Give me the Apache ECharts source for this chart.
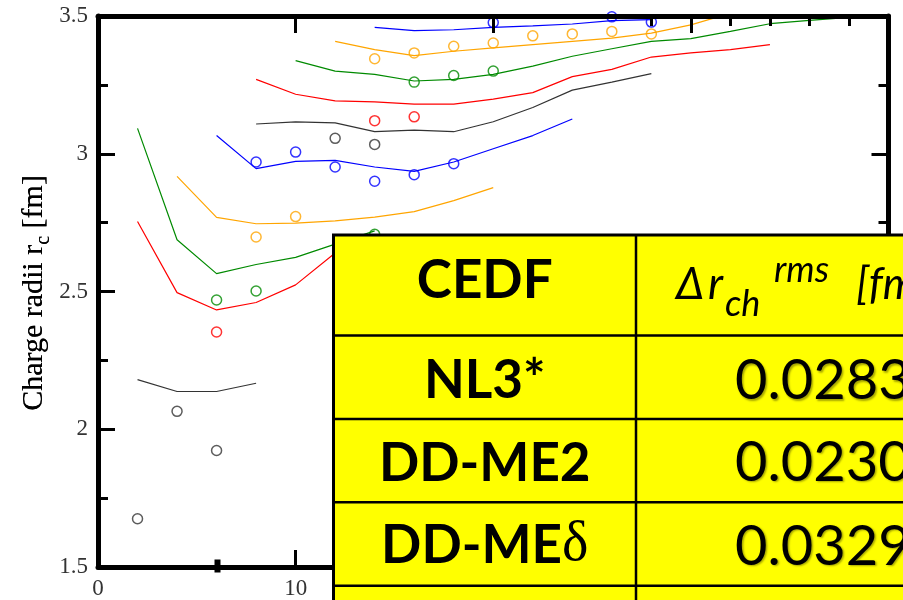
<!DOCTYPE html>
<html><head><meta charset="utf-8">
<script src="https://cdn.jsdelivr.net/npm/echarts@6/dist/echarts.min.js"></script>
<style>html,body{margin:0;padding:0;background:#fff}#c{width:903px;height:600px}</style>
</head><body><div id="c"></div><script>
// ---------- data (x = neutron-like index, y = charge radius in fm) ----------
const thBlack1  = [[2,2.180],[4,2.137],[6,2.137],[8,2.167]];
const exBlack1  = [[2,1.675],[4,2.065],[6,1.923]];
const thRed1    = [[2,2.754],[4,2.496],[6,2.433],[8,2.460],[10,2.524],[12,2.640],[14,2.700]];
const exRed1    = [[6,2.353]];
const thGreen1  = [[2,3.092],[4,2.688],[6,2.565],[8,2.598],[10,2.624],[12,2.672],[14,2.720]];
const exGreen1  = [[6,2.469],[8,2.502],[14,2.708]];
const thOrange1 = [[4,2.918],[6,2.769],[8,2.746],[10,2.748],[12,2.756],[14,2.770],[16,2.790],[18,2.830],[20,2.877]];
const exOrange1 = [[8,2.698],[10,2.772]];
const thBlue1   = [[6,3.066],[8,2.946],[10,2.972],[12,2.976],[14,2.952],[16,2.936],[18,2.970],[20,3.018],[22,3.066],[24,3.126]];
const exBlue1   = [[8,2.970],[10,3.006],[12,2.952],[14,2.900],[16,2.924],[18,2.964]];
const thBlack2  = [[8,3.108],[10,3.116],[12,3.112],[14,3.080],[16,3.086],[18,3.080],[20,3.116],[22,3.168],[24,3.231],[26,3.260],[28,3.291]];
const exBlack2  = [[12,3.056],[14,3.034]];
const thRed2    = [[8,3.270],[10,3.216],[12,3.192],[14,3.188],[16,3.180],[18,3.180],[20,3.198],[22,3.222],[24,3.280],[26,3.306],[28,3.351],[30,3.366],[32,3.378],[34,3.396]];
const exRed2    = [[14,3.120],[16,3.134]];
const thGreen2  = [[10,3.338],[12,3.300],[14,3.288],[16,3.264],[18,3.270],[20,3.288],[22,3.318],[24,3.354],[26,3.381],[28,3.408],[30,3.418],[32,3.444],[34,3.472],[36,3.484],[38,3.495]];
const exGreen2  = [[16,3.260],[18,3.284],[20,3.300]];
const thOrange2 = [[12,3.408],[14,3.378],[16,3.356],[18,3.372],[20,3.384],[22,3.396],[24,3.408],[26,3.420],[28,3.438],[30,3.468],[32,3.510]];
const exOrange2 = [[14,3.345],[16,3.366],[18,3.390],[20,3.402],[22,3.428],[24,3.435],[26,3.444],[28,3.435]];
const thBlue2   = [[14,3.459],[16,3.447],[18,3.450],[20,3.459],[22,3.464],[24,3.471],[26,3.483],[28,3.487]];
const exBlue2   = [[20,3.476],[26,3.497],[28,3.478]];

// table content
const tableHeader = 'CEDF';
const cedfNames  = ['NL3*', 'DD-ME2', 'DD-ME'];
const cedfDelta  = ['', '', 'δ'];
const rmsValues  = ['0.0283', '0.0230', '0.0329'];

// axis ranges and minor tick values
const xMin = 0, xMax = 40, xStep = 10;
const yMin = 1.5, yMax = 3.5, yStep = 0.5, yMinor = 0.25;
const xMinorTicks = [2,4,6,8,12,14,16,18,22,24,26,28,32,34,36,38];

// ---------- styling ----------
const GRID = {left:98, right:12, top:16, bottom:29};
const C = {black:'#333333', red:'#ff0000', green:'#008a00', orange:'#ffa500', blue:'#0000ff'};
const pairs = [
  [thBlack1, exBlack1, C.black], [thRed1, exRed1, C.red], [thGreen1, exGreen1, C.green],
  [thOrange1, exOrange1, C.orange], [thBlue1, exBlue1, C.blue],
  [thBlack2, exBlack2, C.black], [thRed2, exRed2, C.red], [thGreen2, exGreen2, C.green],
  [thOrange2, exOrange2, C.orange], [thBlue2, exBlue2, C.blue]
];
const series = [];
pairs.forEach(([th, ex, col]) => {
  series.push({type:'line', data: th, symbol:'none', showSymbol:false, clip:true,
    lineStyle:{color: col, width:1.2}, z:3, silent:true, animation:false});
  series.push({type:'scatter', data: ex, symbol:'circle', symbolSize:10,
    itemStyle:{color:'rgba(0,0,0,0)', borderColor: col, borderWidth:1.5}, z:4, silent:true, animation:false});
});

const serif = "'Liberation Serif', 'DejaVu Serif', serif";
const tickStyle = {color:'#000', width:3};
function ax(pos, min, max, step, labels, len, showLine){
  return {type:'value', position:pos, min:min, max:max, interval:step,
    axisLine:{show:showLine, onZero:false, lineStyle:{color:'#000', width:5}},
    axisTick:{show:true, inside:true, length:len, lineStyle:tickStyle},
    minorTick:{show:false},
    axisLabel:{show:labels, margin:10, fontFamily:serif, fontSize:23, color:'#333'},
    splitLine:{show:false}, z:5};
}

// ---------- text measuring helper ----------
const mctx = document.createElement('canvas').getContext('2d');
function tw(t, font){ mctx.font = font; return mctx.measureText(t).width; }

// y-axis title (rotated, with subscript)
const tFont = '30px ' + serif, sFont = '20px ' + serif;
const tA = 'Charge radii r', tB = 'c', tC = ' [fm]';
const wA = tw(tA, tFont), wB = tw(tB, sFont), wC = tw(tC, tFont);
const totalW = wA + wB + wC;
const x0 = -totalW/2;
const yTitle = {type:'group', x:44, y:293, rotation:Math.PI/2, z:50, silent:true, children:[
  {type:'text', x:x0, y:-10, style:{text:tA, font:tFont, fill:'#333', textAlign:'left', textVerticalAlign:'middle'}},
  {type:'text', x:x0+wA, y:0, style:{text:tB, font:sFont, fill:'#333', textAlign:'left', textVerticalAlign:'middle'}},
  {type:'text', x:x0+wA+wB, y:-10, style:{text:tC, font:tFont, fill:'#333', textAlign:'left', textVerticalAlign:'middle'}}
]};

// ---------- table ----------
const lato = "Lato, 'Open Sans', 'DejaVu Sans', sans-serif";
const tblLeft = 333.5, tblTop = 235, colX = 636;
const rowLines = [335.5, 419, 502.3, 585.7];
const nameY = [380.5, 463.5, 545.5];
const valY  = [381, 462.5, 546.5];
const tbl = [];
tbl.push({type:'rect', z:100, silent:true, shape:{x:tblLeft, y:tblTop, width:640, height:420},
  style:{fill:'#ffff00', stroke:'#000', lineWidth:3}});
tbl.push({type:'line', z:101, silent:true, shape:{x1:colX, y1:tblTop, x2:colX, y2:620}, style:{stroke:'#000', lineWidth:2.5}});
rowLines.forEach(y => tbl.push({type:'line', z:101, silent:true, shape:{x1:tblLeft, y1:y, x2:920, y2:y}, style:{stroke:'#000', lineWidth:2.5}}));
const nameCx = (tblLeft + colX)/2;
tbl.push({type:'text', z:102, silent:true, x:nameCx, y:281, style:{text:tableHeader, font:"bold 53px " + lato, fill:'#000', textAlign:'center', textVerticalAlign:'middle'}});
cedfNames.forEach((n, i) => {
  tbl.push({type:'text', z:102, silent:true, x:nameCx, y:nameY[i], style:{
    text: '{b|' + n + '}' + (cedfDelta[i] ? '{d|' + cedfDelta[i] + '}' : ''),
    textAlign:'center', textVerticalAlign:'middle',
    rich:{b:{fontFamily:lato, fontWeight:'bold', fontSize:53, color:'#000'},
          d:{fontFamily:serif, fontWeight:'normal', fontSize:56, color:'#000'}}}});
  tbl.push({type:'text', z:102, silent:true, x:735, y:valY[i], style:{
    text: rmsValues[i], font:"56px " + lato, fill:'#000', textAlign:'left', textVerticalAlign:'middle',
    textShadowColor:'rgba(0,0,0,0.35)', textShadowBlur:2, textShadowOffsetX:1.5, textShadowOffsetY:1.5}});
});
// header of second column: Δr_ch^rms [fm]
const hF = "italic 44px " + lato, hS = "italic 36px " + lato;
const hdr = [
  {t:'Δ',   x:676, y:285, f:hF},
  {t:'r',   x:708, y:285, f:hF},
  {t:'ch',  x:725, y:304, f:hS},
  {t:'rms', x:774, y:270, f:hS},
  {t:'[fm]',x:856, y:285, f:hF}
];
hdr.forEach(h => tbl.push({type:'text', z:102, silent:true, x:h.x, y:h.y,
  style:{text:h.t, font:h.f, fill:'#000', textAlign:'left', textVerticalAlign:'middle'}}));

const chart = echarts.init(document.getElementById('c'), null, {renderer:'canvas'});
chart.setOption({
  animation:false,
  backgroundColor:'#fff',
  grid:{left:GRID.left, right:GRID.right, top:GRID.top, bottom:GRID.bottom, containLabel:false},
  xAxis:[ax('bottom', xMin, xMax, xStep, true, 17, true), ax('top', xMin, xMax, xStep, false, 17, true)],
  yAxis:[
    ax('left',  yMin, yMax, yStep, true, 17, true),
    ax('right', yMin, yMax, yStep, false, 17, true),
    ax('left',  yMin, yMax, yMinor, false, 10, false),
    ax('right', yMin, yMax, yMinor, false, 10, false)
  ],
  series: series,
  graphic: {elements: [yTitle].concat(tbl)}
});

// minor ticks of the x axes: x through the axis scale, attached to the grid's top/bottom edges
const W = 903 - GRID.left - GRID.right;
function xPix(v){ let p = chart.convertToPixel({xAxisIndex:0}, v); if (Array.isArray(p)) p = p[0];
  return isFinite(p) ? p : GRID.left + (v - xMin)/(xMax - xMin)*W; }
const yBot = 600 - GRID.bottom, yTop = GRID.top;
const minorTickEls = [];
xMinorTicks.forEach(v => {
  const px = Math.round(xPix(v)) + 0.5;
  minorTickEls.push({type:'rect', z:99, silent:true, shape:{x:px-1.5, y:yBot-10, width:3, height:10}, style:{fill:'#000'}});
  minorTickEls.push({type:'rect', z:99, silent:true, shape:{x:px-1.5, y:yTop, width:3, height:10}, style:{fill:'#000'}});
});
chart.setOption({graphic: {elements: minorTickEls.concat([yTitle]).concat(tbl)}});
</script></body></html>
